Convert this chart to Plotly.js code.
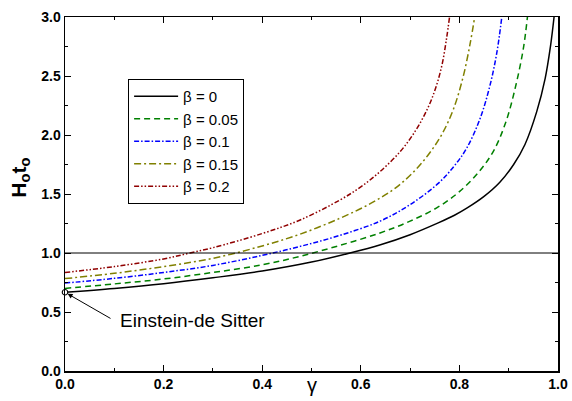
<!DOCTYPE html>
<html>
<head>
<meta charset="utf-8">
<script src="https://cdn.plot.ly/plotly-3.0.1.min.js"></script>
<style>
  html, body { margin: 0; padding: 0; background: #fff; }
  #chart { width: 572px; height: 401px; }
</style>
</head>
<body>
<div id="chart"></div>
<script>
// ---- data ----
const seriesNames = ['\u03B2 = 0', '\u03B2 = 0.05', '\u03B2 = 0.1', '\u03B2 = 0.15', '\u03B2 = 0.2'];

const gammaB0 = [0, 0.1, 0.2, 0.3, 0.4, 0.5, 0.578, 0.64, 0.70, 0.757, 0.79, 0.815, 0.85, 0.882, 0.91, 0.933, 0.957, 0.974, 0.985, 0.992];
const hB0     = [0.667, 0.70, 0.74, 0.79, 0.847, 0.923, 1.0, 1.07, 1.155, 1.255, 1.32, 1.38, 1.48, 1.60, 1.75, 1.92, 2.20, 2.48, 2.76, 3.0];

const gammaB005 = [0, 0.1, 0.2, 0.3, 0.4, 0.477, 0.558, 0.639, 0.70, 0.757, 0.80, 0.84, 0.87, 0.895, 0.915, 0.93, 0.938];
const hB005     = [0.70, 0.738, 0.78, 0.835, 0.90, 0.972, 1.065, 1.17, 1.27, 1.39, 1.52, 1.69, 1.87, 2.12, 2.43, 2.74, 3.0];

const gammaB01 = [0, 0.1, 0.2, 0.3, 0.4, 0.477, 0.558, 0.639, 0.70, 0.757, 0.79, 0.815, 0.842, 0.862, 0.876, 0.886];
const hB01     = [0.745, 0.785, 0.835, 0.895, 0.98, 1.056, 1.15, 1.27, 1.41, 1.59, 1.74, 1.89, 2.14, 2.42, 2.70, 3.0];

const gammaB015 = [0, 0.1, 0.2, 0.3, 0.4, 0.477, 0.558, 0.62, 0.67, 0.71, 0.74, 0.765, 0.788, 0.808, 0.822, 0.831];
const hB015     = [0.783, 0.828, 0.885, 0.955, 1.06, 1.16, 1.295, 1.42, 1.55, 1.70, 1.85, 2.01, 2.22, 2.50, 2.78, 3.0];

const gammaB02 = [0, 0.1, 0.2, 0.2535, 0.3, 0.4, 0.477, 0.558, 0.60, 0.639, 0.68, 0.71, 0.735, 0.752, 0.765, 0.774, 0.78];
const hB02     = [0.835, 0.885, 0.95, 1.0, 1.045, 1.165, 1.28, 1.45, 1.56, 1.69, 1.86, 2.03, 2.22, 2.40, 2.60, 2.82, 3.0];

const edsGamma = [0];
const edsH = [0.667];
const referenceH = 1.0;
const edsLabel = 'Einstein-de Sitter';

const xTickVals = [0, 0.2, 0.4, 0.6, 0.8, 1.0];
const yTickVals = [0, 0.5, 1.0, 1.5, 2.0, 2.5, 3.0];

// ---- styling ----
const FONT = 'Liberation Sans, Arial, Helvetica, sans-serif';
const styles = [
  {color: '#000000', dash: 'solid'},
  {color: '#008000', dash: '6px,4px'},
  {color: '#0000FF', dash: '5px,2px,1.5px,2px'},
  {color: '#808000', dash: '7px,3px,2px,3px'},
  {color: '#900000', dash: '5px,2px,1.5px,2px,1.5px,2px'}
];
const xs = [gammaB0, gammaB005, gammaB01, gammaB015, gammaB02];
const ys = [hB0, hB005, hB01, hB015, hB02];

const traces = xs.map((x, i) => ({
  type: 'scatter', mode: 'lines', x: x, y: ys[i], name: seriesNames[i],
  line: {color: styles[i].color, dash: styles[i].dash, width: 1.5, shape: 'spline', smoothing: 1.0},
  hoverinfo: 'skip'
}));

traces.push({
  type: 'scatter', mode: 'markers', x: edsGamma, y: edsH, showlegend: false,
  marker: {symbol: 'circle', size: 5.5, color: '#ffffff', line: {color: '#000000', width: 1.1}},
  cliponaxis: false, hoverinfo: 'skip'
});

const axisCommon = {
  showgrid: false, zeroline: false, showline: true, linecolor: '#000', linewidth: 1.5,
  mirror: 'allticks', ticks: 'inside', ticklen: 6, tickwidth: 1, tickcolor: '#000',
  tickfont: {family: FONT, size: 14, color: '#000', weight: 'bold'},
  tickformat: '.1f', fixedrange: true
};

const layout = {
  width: 572, height: 401,
  margin: {l: 65, r: 14, t: 17, b: 30},
  paper_bgcolor: '#fff', plot_bgcolor: '#fff',
  showlegend: true,
  legend: {
    x: 0.128, y: 0.825, xanchor: 'left', yanchor: 'top',
    bgcolor: '#fff', bordercolor: '#000', borderwidth: 1,
    font: {family: FONT, size: 15, color: '#000'},
    itemwidth: 44
  },
  xaxis: Object.assign({}, axisCommon, {
    range: [0, 1], tickvals: xTickVals,
    minor: {dtick: 0.1, ticks: 'inside', ticklen: 3, tickcolor: '#000', tickwidth: 1}
  }),
  yaxis: Object.assign({}, axisCommon, {
    range: [0, 3], tickvals: yTickVals,
    minor: {dtick: 0.25, ticks: 'inside', ticklen: 3, tickcolor: '#000', tickwidth: 1}
  }),
  shapes: [{
    type: 'line', xref: 'paper', x0: 0, x1: 1, yref: 'y', y0: referenceH, y1: referenceH,
    line: {color: '#000', width: 1}
  }],
  annotations: [
    {x: edsGamma[0], y: edsH[0], xref: 'x', yref: 'y', text: '', showarrow: true,
     ax: 47, ay: 27, arrowhead: 2, arrowsize: 1, arrowwidth: 1, arrowcolor: '#000', standoff: 3},
    {x: 0.1075, y: 0.424, xref: 'x', yref: 'y', text: edsLabel, showarrow: false,
     xanchor: 'left', yanchor: 'middle', font: {family: FONT, size: 19, color: '#000'}},
    {x: 0.501, y: -0.04, xref: 'paper', yref: 'paper', text: '\u03B3', showarrow: false,
     xanchor: 'center', yanchor: 'middle', font: {family: FONT, size: 20, color: '#000'}},
    {x: -0.092, y: 0.545, xref: 'paper', yref: 'paper', text: 'H<sub>o</sub>t<sub>o</sub>', showarrow: false,
     textangle: -90, xanchor: 'center', yanchor: 'middle',
     font: {family: FONT, size: 21, color: '#000', weight: 'bold'}}
  ]
};

Plotly.newPlot('chart', traces, layout, {displayModeBar: false, staticPlot: true});
</script>
</body>
</html>
